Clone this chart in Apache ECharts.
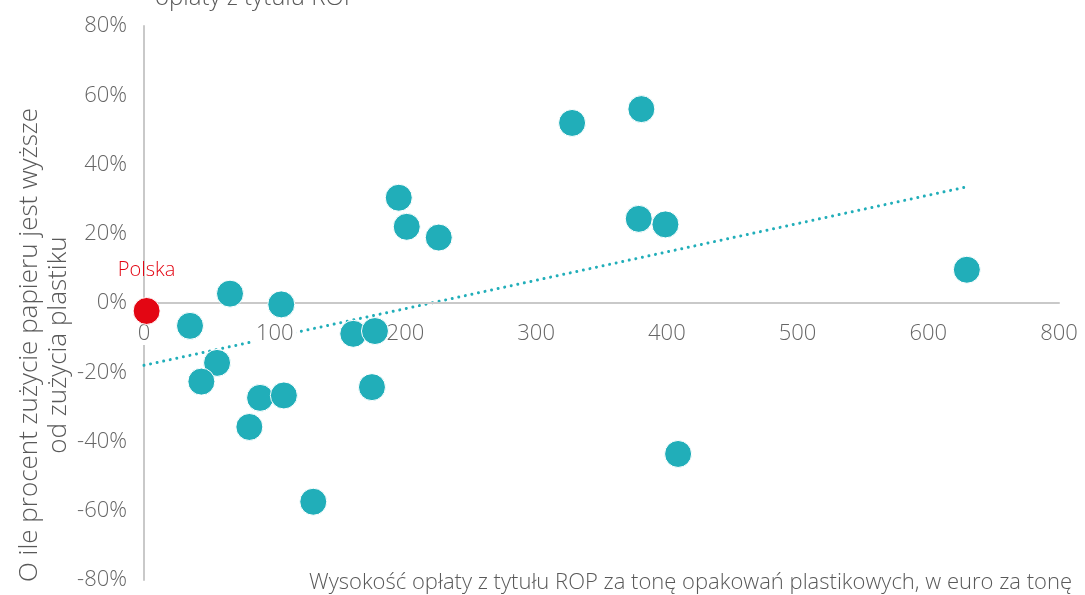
<!DOCTYPE html>
<html>
<head>
<meta charset="utf-8">
<title>ROP</title>
<script src="https://cdn.jsdelivr.net/npm/echarts@6/dist/echarts.min.js"></script>
<style>
    html, body { margin: 0; padding: 0; background: #fff; }
    #chart { width: 1085px; height: 595px; }
</style>
</head>
<body>
<div id="chart"></div>
<script>
// opłata ROP (euro/t) dla krajów
var feeX = [35.2, 65.8, 105, 55.9, 43.9, 88.8, 107, 80.6, 129.5, 160.1, 176.7, 174.4,
    194.9, 201, 225.5, 327.5, 378.5, 380.5, 398.9, 408.6, 629.5];
// o ile % zużycie papieru wyższe od plastiku
var diffY = [-6.6, 2.7, -0.4, -17.3, -22.7, -27.4, -26.7, -35.8, -57.4, -8.9, -8.1, -24.3,
    30.4, 22, 18.9, 52, 24.3, 56, 22.7, -43.6, 9.6];

// Polska
var polandX = [2];
var polandY = [-2.3];

// linia trendu (końce)
var trendX = [0, 629];
var trendY = [-18.0, 33.5];

// podpisy osi X (tak jak na oryginale)
var xTickLabels = ['0', '100', '200', '300', '400', '500', '600', '800'];

var fontName = '"Open Sans", "DejaVu Sans", sans-serif';

function pairs(xs, ys) {
    var out = [];
    for (var i = 0; i < xs.length; i++) {
        out.push([xs[i], ys[i]]);
    }
    return out;
}

var myChart = echarts.init(document.getElementById('chart'));

var option = {
    animation: false,
    textStyle: {
        fontFamily: fontName
    },
    title: {
        text: 'opłaty z tytułu ROP',
        left: 150,
        top: -19,
        textStyle: {
            fontFamily: fontName,
            fontWeight: 300,
            fontSize: 24,
            color: '#595959'
        }
    },
    // grid 0 - cały wykres, grid 1 - górna połowa (oś X leży na 0%)
    grid: [{
        left: 144,
        right: 26,
        top: 26,
        bottom: 15,
        outerBoundsMode: 'none'
    }, {
        left: 144,
        right: 26,
        top: 26,
        bottom: 292,
        outerBoundsMode: 'none'
    }],
    graphic: [{
        // opis osi Y
        type: 'text',
        x: 44,
        y: 345,
        rotation: Math.PI / 2,
        style: {
            text: 'O ile procent zużycie papieru jest wyższe\nod zużycia plastiku',
            font: '300 26px ' + fontName,
            fill: '#595959',
            align: 'center',
            verticalAlign: 'middle',
            lineHeight: 29
        }
    }, {
        // opis osi X
        type: 'text',
        x: 1072,
        y: 583,
        style: {
            text: 'Wysokość opłaty z tytułu ROP za tonę opakowań plastikowych, w euro za tonę',
            font: '300 22px ' + fontName,
            fill: '#595959',
            align: 'right',
            verticalAlign: 'middle'
        }
    }],
    xAxis: [{
        type: 'value',
        gridIndex: 0,
        min: 0,
        max: 700,
        interval: 100,
        show: false
    }, {
        type: 'value',
        gridIndex: 1,
        min: 0,
        max: 700,
        interval: 100,
        z: 3,
        splitLine: { show: false },
        axisTick: { show: false },
        axisLine: {
            show: true,
            onZero: false,
            lineStyle: { color: '#c9c9c9', width: 2 }
        },
        axisLabel: {
            margin: 20,
            fontSize: 22,
            fontWeight: 300,
            color: '#666',
            backgroundColor: '#fff',
            padding: [0, 3],
            formatter: function (value) {
                return xTickLabels[Math.round(value / 100)];
            }
        }
    }],
    yAxis: [{
        type: 'value',
        gridIndex: 0,
        min: -80,
        max: 80,
        interval: 20,
        splitLine: { show: false },
        axisTick: { show: false },
        axisLine: {
            show: true,
            onZero: false,
            lineStyle: { color: '#c9c9c9', width: 2 }
        },
        axisLabel: {
            margin: 17,
            fontSize: 22,
            fontWeight: 300,
            color: '#666',
            formatter: '{value}%'
        }
    }, {
        type: 'value',
        gridIndex: 1,
        min: 0,
        max: 80,
        show: false
    }],
    series: [{
        name: 'trend',
        type: 'line',
        z: 1,
        symbol: 'none',
        silent: true,
        lineStyle: {
            color: '#21aeb9',
            width: 3,
            type: [0.01, 6.7],
            cap: 'round'
        },
        data: pairs(trendX, trendY)
    }, {
        name: 'kraje',
        type: 'scatter',
        z: 5,
        symbolSize: 27,
        itemStyle: {
            color: '#21aeb9',
            borderColor: '#fff',
            borderWidth: 1,
            opacity: 1
        },
        data: pairs(feeX, diffY)
    }, {
        name: 'Polska',
        type: 'scatter',
        z: 6,
        symbolSize: 27,
        itemStyle: {
            color: '#e30613',
            borderColor: '#fff',
            borderWidth: 1,
            opacity: 1
        },
        label: {
            show: true,
            position: 'top',
            distance: 17,
            formatter: 'Polska',
            fontSize: 20,
            fontWeight: 300,
            color: '#e30613'
        },
        data: pairs(polandX, polandY)
    }]
};
myChart.setOption(option);
</script>
</body>
</html>
